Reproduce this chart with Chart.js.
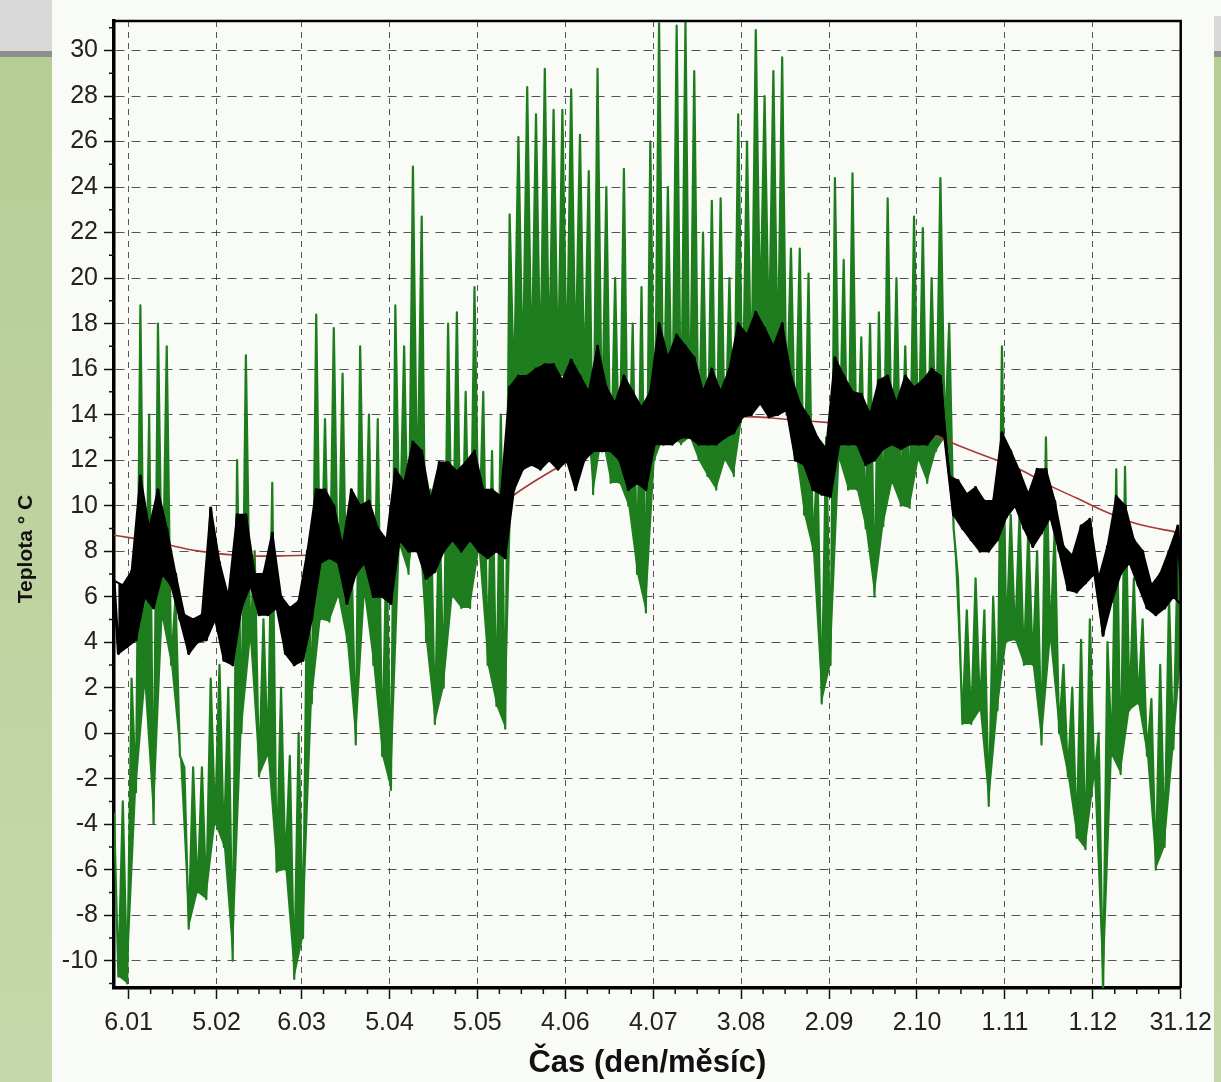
<!DOCTYPE html>
<html>
<head>
<meta charset="utf-8">
<script src="https://cdn.jsdelivr.net/npm/chart.js@4.4.1/dist/chart.umd.min.js"></script>
<style>
  html, body { margin: 0; padding: 0; }
  body { width: 1221px; height: 1082px; position: relative; overflow: hidden; background: #f9fbf7; }
  .strip { position: absolute; top: 0; bottom: 0; }
  #left { left: 0; width: 52px; background: linear-gradient(#d9d9d9 0 51px, #8f8f8f 51px 57px, #b6cd95 57px, #c6d8ab 100%); }
  #right { right: 0; width: 7px; background: linear-gradient(#f9fbf7 0 16px, #d9d9d9 16px 51px, #8f8f8f 51px 57px, #b6cd95 57px, #c6d8ab 100%); }
  #chart { position: absolute; left: 0; top: 0; }
</style>
</head>
<body>
<div class="strip" id="left"></div>
<div class="strip" id="right"></div>
<canvas id="chart" width="1221" height="1082"></canvas>
<script>
// x axis: day of year, labelled den.měsíc
const tickDays = [6, 36, 65, 95, 125, 155, 185, 215, 245, 275, 305, 335, 365];
const tickLabels = ['6.01', '5.02', '6.03', '5.04', '5.05', '4.06', '4.07', '3.08', '2.09', '2.10', '1.11', '1.12', '31.12'];

// sample days for the daily max / min readings
const sampleDays = [1, 4, 7, 10, 13, 16, 19, 22, 25, 28, 31, 34, 37, 40, 43, 46, 49, 52, 55, 58,
  61, 64, 67, 70, 73, 76, 79, 82, 85, 88, 91, 94, 97, 100, 103, 106, 109, 112, 115, 118,
  121, 124, 127, 130, 133, 136, 139, 142, 145, 148, 151, 154, 157, 160, 163, 166, 169, 172, 175, 178,
  181, 184, 187, 190, 193, 196, 199, 202, 205, 208, 211, 214, 217, 220, 223, 226, 229, 232, 235, 238,
  241, 244, 247, 250, 253, 256, 259, 262, 265, 268, 271, 274, 277, 280, 283, 286, 289, 292, 295, 298,
  301, 304, 307, 310, 313, 316, 319, 322, 325, 328, 331, 334, 337, 340, 343, 346, 349, 352, 355, 358,
  361, 364];

// green series (outside) - high / low
const outsideHigh = [-3.5, -3, 2.4, 18.8, 14, 18, 17, 6, -1.5, -1.5, -1.5, 2.4, 3, 2, 12, 16.6, 8, 5, 11, 2,
  -1, 0, 8, 18.4, 13.8, 17.8, 15.8, 8, 17, 14, 13.8, 8.2, 18.8, 17, 24.9, 22.7, 10.7, 10, 18, 18.5,
  15, 19.6, 15, 12.4, 14, 22.8, 26.2, 28.4, 27.2, 29.2, 27.4, 27.4, 28.3, 26.3, 24.7, 29.2, 24, 20, 24.8, 18,
  19.6, 26, 31.2, 24, 31.1, 31.3, 29.1, 22, 23.4, 23.5, 20, 27.2, 26, 30.9, 28, 29.1, 29.7, 21.3, 21.3, 20.2,
  12, 13, 24.4, 20.8, 24.6, 17.4, 18, 18.5, 23.5, 20, 17, 22.7, 22.2, 20, 24.4, 18, 6.8, 5.4, 6.8, 5.4,
  6, 17, 9.6, 9.6, 9, 8, 13, 9, 3, 2, 4.1, 5, 0, 4, 11.6, 11.7, 6.8, 5, 1.5, 3,
  6, 8];
const outsideLow = [-10.7, -11, -2.6, 2, -4, 5, 3, -1, -8.6, -7, -7.3, -4, -5, -10, 0, 4, -1.9, -1, -6.1, -6,
  -10.8, -9, 1.3, 5, 4.9, 6, 4, -0.5, 6, 3, -1, -2.5, 8.2, 7, 10, 4, 0.4, 2, 6, 5.5,
  5.5, 8, 3, 1.2, 0.2, 15, 15.5, 15.7, 15.7, 16, 15.7, 15.7, 16, 15.2, 10.5, 13, 11, 11, 10, 7,
  5.3, 12, 13, 13, 12.7, 13, 12, 11.3, 10.7, 12, 11.3, 14, 15, 18, 17, 16, 14, 12.4, 9.6, 8,
  1.3, 3, 12, 10.7, 10.7, 9, 6, 9.1, 11, 10, 9.9, 12, 11, 12.4, 13, 9, 0.4, 0.4, 1, -3.2,
  1, 4, 4.1, 3, 3, -0.5, 4, 0, -1.9, -4.6, -5.1, -2, -11.5, -1, -1.8, 1, 1.3, -1, -6, -5,
  -0.7, 4];

// black series (inside) - high / low
const insideHigh = [6.7, 6.5, 7.1, 11.3, 9, 10.7, 9, 7, 5.2, 5, 5.2, 9.9, 7.5, 6, 9.6, 9.6, 7, 7, 8.8, 6,
  5.5, 5.8, 8, 10.7, 10.7, 10, 8.2, 10.7, 10, 10.2, 9, 8.5, 11.6, 11, 12.8, 12.4, 10.2, 11.9, 11.9, 11.5,
  11.9, 12.4, 10.7, 10.7, 10.4, 15.2, 15.7, 15.7, 16, 16.2, 16.2, 15.5, 16.4, 15.7, 15, 17, 15.2, 14.5, 15.7, 15,
  14.3, 15, 18, 16.5, 17.5, 17, 16.5, 15, 16, 15, 16, 18, 17.5, 18.5, 17.8, 17, 18, 15.7, 14.5, 13.9,
  13, 12.5, 16.5, 15.7, 15, 14.9, 14, 15.5, 15.7, 14.5, 15.7, 15.2, 15.5, 16, 15.7, 11.3, 11.1, 10.5, 10.8, 10.2,
  10.2, 13.2, 12.4, 11.5, 10.5, 11.6, 11.6, 10.2, 8.2, 7.8, 9.1, 9.4, 6.8, 8.2, 10.4, 10, 8.5, 8, 6.5, 7,
  8, 9.1];
const insideLow = [3.5, 3.8, 4.1, 6, 5.5, 7, 6.5, 5, 3.5, 4, 4.1, 5, 3.2, 3, 5.5, 6.5, 5.2, 5.2, 5.5, 3.5,
  3, 3.2, 5, 7.5, 7.7, 7.5, 5.7, 7, 7.5, 6, 6, 5.7, 8.5, 8, 8, 6.8, 7.1, 8, 8.5, 8,
  8.5, 8, 7.7, 8, 7.7, 10.7, 11.6, 11.8, 11.6, 12, 11.6, 12, 10.7, 12, 12.4, 12.4, 12.4, 12, 10.7, 11,
  10.7, 12.7, 12.7, 12.7, 13, 13, 12.7, 12.7, 12.7, 13, 13.2, 13.9, 14, 14.5, 13.9, 14, 14.2, 12, 11.8, 10.7,
  10.5, 10.4, 12.7, 12.7, 12.7, 11.8, 12, 12.5, 12.7, 12.5, 12.7, 12.7, 12.7, 13.2, 13, 9.6, 9, 8.5, 8, 8,
  8.5, 9.5, 10, 9, 8.2, 8.8, 9.5, 8, 6.3, 6.2, 6.6, 7, 4.3, 5.8, 7, 7.5, 6.5, 5.5, 5.2, 5.5,
  6, 5.6];

// red series (ground) - smooth
const groundDays = [1, 15, 30, 45, 60, 75, 90, 105, 120, 130, 140, 150, 160, 170, 180, 190, 200, 210, 220, 230,
  240, 250, 260, 270, 280, 290, 300, 310, 320, 330, 340, 350, 365];
const groundTemp = [8.7, 8.4, 8.0, 7.8, 7.8, 7.9, 8.3, 8.7, 9.3, 9.8, 10.7, 11.5, 12.2, 12.8, 13.3, 13.6, 13.8, 13.9, 13.9, 13.8,
  13.7, 13.6, 13.5, 13.3, 13.1, 12.6, 12.1, 11.6, 10.9, 10.3, 9.7, 9.2, 8.8];

const yTitle = 'Teplota ° C';
const xTitle = 'Čas (den/měsíc)';
const fontFamily = '"Liberation Sans", Arial, sans-serif';

// daily max and min become a zig-zag line (min half a step later)
function zigzag(hi, lo) {
  const pts = [];
  sampleDays.forEach((d, i) => {
    pts.push({ x: d, y: hi[i] });
    pts.push({ x: d + 1.5, y: lo[i] });
  });
  return pts;
}
const highEdge = hi => sampleDays.map((d, i) => ({ x: d, y: hi[i] }));
const lowEdge = lo => sampleDays.map((d, i) => ({ x: d + 1.5, y: lo[i] }));

// minor ticks, box frame and the y title
const extras = {
  id: 'extras',
  afterDraw(chart) {
    const { ctx, chartArea: a, scales: { x, y } } = chart;
    ctx.save();
    ctx.strokeStyle = '#111';
    ctx.lineWidth = 1.5;
    ctx.beginPath();
    for (let i = 0; i < tickDays.length - 1; i++) {
      const step = (tickDays[i + 1] - tickDays[i]) / 4;
      for (let k = 1; k < 4; k++) {
        const px = x.getPixelForValue(tickDays[i] + k * step);
        ctx.moveTo(px, a.bottom);
        ctx.lineTo(px, a.bottom + 6);
      }
    }
    for (let v = -11; v <= 31; v += 2) {
      const py = y.getPixelForValue(v);
      ctx.moveTo(a.left - 5, py);
      ctx.lineTo(a.left, py);
    }
    ctx.stroke();

    ctx.strokeStyle = '#000';
    ctx.lineWidth = 2.5;
    ctx.beginPath();
    ctx.moveTo(a.left, a.top);
    ctx.lineTo(a.right, a.top);
    ctx.lineTo(a.right, a.bottom);
    ctx.stroke();

    ctx.translate(26, 549);
    ctx.rotate(-Math.PI / 2);
    ctx.font = 'bold 21px ' + fontFamily;
    ctx.fillStyle = '#111';
    ctx.textAlign = 'center';
    ctx.textBaseline = 'middle';
    ctx.fillText(yTitle, 0, 0);
    ctx.restore();
  }
};

const base = { pointRadius: 0, tension: 0, borderJoinStyle: 'round' };

const ctx = document.getElementById('chart').getContext('2d');
const chart = new Chart(ctx, {
  type: 'line',
  data: {
    datasets: [
      // dataset 0 is drawn last (on top)
      { ...base, label: 'inside', data: zigzag(insideHigh, insideLow), borderColor: '#000', borderWidth: 3 },
      { ...base, label: 'inside max', data: highEdge(insideHigh), borderColor: '#000', borderWidth: 2,
        fill: { target: 2 }, backgroundColor: '#000' },
      { ...base, label: 'inside min', data: lowEdge(insideLow), borderColor: '#000', borderWidth: 2 },
      { ...base, label: 'ground', data: groundDays.map((d, i) => ({ x: d, y: groundTemp[i] })),
        borderColor: '#a8383a', borderWidth: 1.6, tension: 0.4 },
      { ...base, label: 'outside', data: zigzag(outsideHigh, outsideLow), borderColor: '#1d7d1d', borderWidth: 2.2,
        fill: { target: 5 }, backgroundColor: '#1f7d1f' },
      { ...base, label: 'outside min', data: lowEdge(outsideLow), borderColor: 'rgba(0,0,0,0)', borderWidth: 0 }
    ]
  },
  options: {
    responsive: false,
    animation: false,
    layout: { padding: { left: 0, right: 38, top: 13, bottom: 0 } },
    plugins: {
      legend: { display: false },
      tooltip: { enabled: false }
    },
    scales: {
      x: {
        type: 'linear',
        min: 1,
        max: 365,
        afterBuildTicks: s => { s.ticks = tickDays.map(v => ({ value: v })); },
        afterFit: s => { s.height = 94; },
        ticks: {
          autoSkip: false,
          maxRotation: 0,
          padding: 9,
          color: '#222',
          font: { family: fontFamily, size: 25 },
          callback: v => tickLabels[tickDays.indexOf(v)]
        },
        grid: {
          color: 'rgba(45,45,45,0.8)',
          lineWidth: 1,
          tickLength: 11,
          tickColor: '#111',
          tickWidth: 1.5,
          tickBorderDash: []
        },
        border: { display: true, color: '#000', width: 3.5, dash: [6, 5] },
        title: {
          display: true,
          text: xTitle,
          color: '#111',
          font: { family: fontFamily, size: 31, weight: 'bold' },
          padding: { top: 0, bottom: 0 }
        }
      },
      y: {
        min: -11.2,
        max: 31.3,
        afterFit: s => { s.width = 114; },
        ticks: {
          stepSize: 2,
          includeBounds: false,
          padding: 6,
          color: '#222',
          font: { family: fontFamily, size: 25 }
        },
        grid: {
          color: 'rgba(45,45,45,0.8)',
          lineWidth: 1,
          tickLength: 10,
          tickColor: '#111',
          tickWidth: 1.5,
          tickBorderDash: []
        },
        border: { display: true, color: '#000', width: 3.5, dash: [9, 7] }
      }
    }
  },
  plugins: [extras]
});
</script>
</body>
</html>
